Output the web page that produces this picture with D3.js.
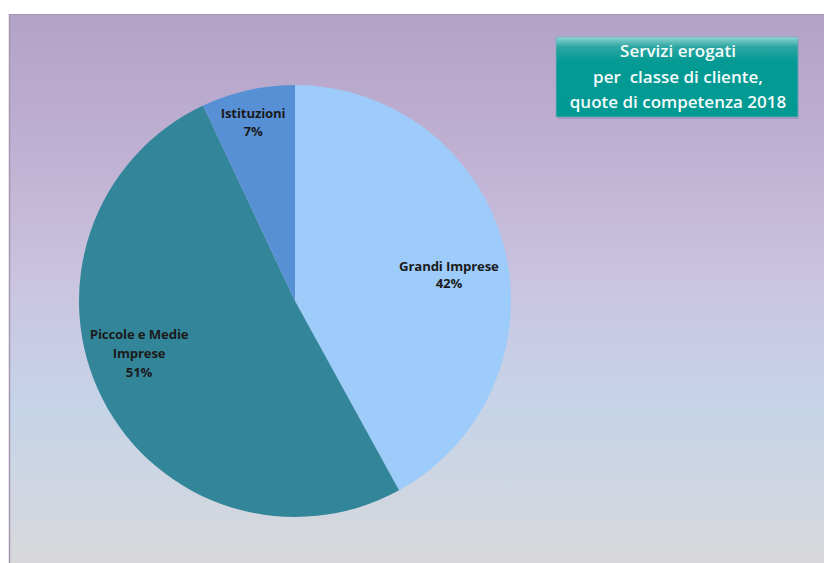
<!DOCTYPE html>
<html>
<head>
<meta charset="utf-8">
<script src="https://cdn.jsdelivr.net/npm/d3@7"></script>
<style>
  html, body { margin: 0; padding: 0; background: #ffffff; }
  svg { display: block; }
</style>
</head>
<body>
<svg id="chart" width="824" height="563"></svg>
<script>
// Quote di competenza 2018 per classe di cliente
const categories = ["Grandi Imprese", "Piccole e Medie Imprese", "Istituzioni"];
const shares = [42, 51, 7];
const labelLines = [["Grandi Imprese"], ["Piccole e Medie", "Imprese"], ["Istituzioni"]];
const titleLines = ["Servizi erogati", "per\u00a0 classe di cliente,", "quote di competenza 2018"];

const sliceColors = ["#9dcbfa", "#33869a", "#5890d6"];
// first-line baseline anchor: angle (deg, clockwise from top), radius fraction, line height
const labelAnchors = [
  { angle: 79.0, r: 0.726, lh: 17 },
  { angle: 256.3, r: 0.743, lh: 19 },
  { angle: 347.1, r: 0.869, lh: 18 }
];

const W = 824, H = 563;
const svg = d3.select("#chart");
const defs = svg.append("defs");

const bg = defs.append("linearGradient").attr("id", "bgGrad")
  .attr("x1", 0).attr("y1", 0).attr("x2", 0).attr("y2", 1);
[["0%", "#b2a2c7"], ["30%", "#c2b4d5"], ["50%", "#cac5e0"], ["72%", "#c6d4e8"], ["87%", "#cfd6e1"], ["100%", "#d8d8da"]]
  .forEach(([o, c]) => bg.append("stop").attr("offset", o).attr("stop-color", c));

const tg = defs.append("linearGradient").attr("id", "titleGrad")
  .attr("x1", 0).attr("y1", 0).attr("x2", 0).attr("y2", 1);
[["0%", "#8fd6d3"], ["12%", "#2fa7a3"], ["30%", "#059a94"], ["100%", "#009a93"]]
  .forEach(([o, c]) => tg.append("stop").attr("offset", o).attr("stop-color", c));

// plot area background
svg.append("rect").attr("x", 9).attr("y", 14).attr("width", W - 9).attr("height", H - 14)
  .attr("fill", "url(#bgGrad)");
svg.append("line").attr("x1", 9.5).attr("y1", 14).attr("x2", 9.5).attr("y2", H)
  .attr("stroke", "#a396b0").attr("stroke-width", 1.5);
svg.append("line").attr("x1", 9).attr("y1", 14.5).attr("x2", W).attr("y2", 14.5)
  .attr("stroke", "#a497b4").attr("stroke-width", 1);

// pie
const cx = 295, cy = 301, R = 216;
const pie = d3.pie().value(d => d).sort(null);
const arc = d3.arc().innerRadius(0).outerRadius(R);
const arcs = pie(shares);

const g = svg.append("g").attr("transform", `translate(${cx},${cy})`);
g.selectAll("path").data(arcs).join("path")
  .attr("d", arc)
  .attr("fill", (d, i) => sliceColors[i]);

// slice labels
const fontFam = "'Open Sans', Lato, sans-serif";
arcs.forEach((a, i) => {
  const an = labelAnchors[i];
  const rad = an.angle * Math.PI / 180;
  const x = Math.sin(rad) * R * an.r;
  const y = -Math.cos(rad) * R * an.r;
  const lines = labelLines[i].concat([d3.format("d")(a.data) + "%"]);
  const t = g.append("text")
    .attr("text-anchor", "middle")
    .attr("font-family", fontFam)
    .attr("font-weight", 700)
    .attr("font-size", 13.2)
    .attr("letter-spacing", -0.15)
    .attr("fill", "#1b1b1b");
  lines.forEach((ln, k) => {
    t.append("tspan").attr("x", x).attr("y", y + k * an.lh).text(ln);
  });
});

// title box
const tb = { x: 556, y: 37, w: 242, h: 80 };
svg.append("rect").attr("x", tb.x + 1).attr("y", tb.y + 2).attr("width", tb.w).attr("height", tb.h)
  .attr("fill", "#8f7fa6").attr("opacity", 0.5);
svg.append("rect").attr("x", tb.x).attr("y", tb.y).attr("width", tb.w).attr("height", tb.h)
  .attr("fill", "url(#titleGrad)").attr("stroke", "#7fa9c4").attr("stroke-width", 0.8);
const tt = svg.append("text")
  .attr("text-anchor", "middle")
  .attr("font-family", fontFam)
  .attr("font-weight", 600)
  .attr("font-size", 17)
  .attr("fill", "#f4fbfa");
titleLines.forEach((ln, k) => {
  tt.append("tspan").attr("x", 678).attr("y", 57 + k * 25.5).text(ln);
});
</script>
</body>
</html>
